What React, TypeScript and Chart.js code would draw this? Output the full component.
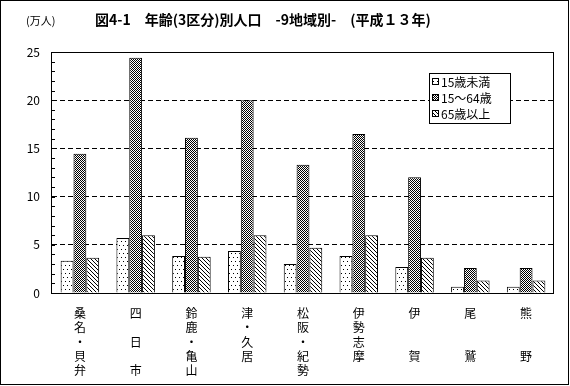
import React, { useEffect, useRef } from "react";
import { Chart, registerables } from "chart.js";

Chart.register(...registerables);

const categories: string[][] = [
  ["桑", "名", "・", "貝", "弁"],
  ["四", "", "日", "", "市"],
  ["鈴", "鹿", "・", "亀", "山"],
  ["津", "・", "久", "居"],
  ["松", "阪", "・", "紀", "勢"],
  ["伊", "勢", "志", "摩"],
  ["伊", "", "", "賀"],
  ["尾", "", "", "鷲"],
  ["熊", "", "", "野"],
];
const seriesNames = ["15歳未満", "15～64歳", "65歳以上"];
const under15 = [3.35, 5.7, 3.85, 4.35, 3.0, 3.85, 2.7, 0.65, 0.65];
const age15to64 = [14.45, 24.4, 16.1, 20.0, 13.3, 16.5, 12.0, 2.6, 2.6];
const over65 = [3.65, 6.0, 3.75, 6.0, 4.7, 6.0, 3.65, 1.3, 1.3];
const yTicks = [0, 5, 10, 15, 20, 25];

const TITLE = "図4-1　年齢(3区分)別人口　-9地域別-　(平成１３年)";
const UNIT = "(万人)";
const FONT = "'Noto Sans CJK JP', 'DejaVu Sans', sans-serif";

function makePattern(kind: number): CanvasPattern | string {
  const c = document.createElement("canvas");
  const ctx = c.getContext("2d")!;
  if (kind === 0) {
    c.width = 4; c.height = 8;
    ctx.fillStyle = "#fff"; ctx.fillRect(0, 0, 4, 8);
    ctx.fillStyle = "#000";
    ctx.fillRect(1, 1, 1, 1);
    ctx.fillRect(3, 5, 1, 1);
  } else if (kind === 1) {
    c.width = 2; c.height = 2;
    ctx.fillStyle = "#fff"; ctx.fillRect(0, 0, 2, 2);
    ctx.fillStyle = "#000";
    ctx.fillRect(0, 0, 1, 1);
    ctx.fillRect(1, 1, 1, 1);
  } else {
    c.width = 4; c.height = 4;
    ctx.fillStyle = "#fff"; ctx.fillRect(0, 0, 4, 4);
    ctx.fillStyle = "#000";
    for (let i = 0; i < 4; i++) ctx.fillRect(i, i, 1, 1);
  }
  const p = ctx.createPattern(c, "repeat");
  return p || "#888";
}

export default function App() {
  const ref = useRef<HTMLCanvasElement | null>(null);
  useEffect(() => {
    document.body.style.margin = "0";
    const canvas = ref.current!;
    const patterns = [makePattern(0), makePattern(1), makePattern(2)];

    const decor = {
      id: "decor",
      afterDraw(chart: any) {
        const ctx = chart.ctx as CanvasRenderingContext2D;
        const a = chart.chartArea;
        const ys = chart.scales.y;
        ctx.save();
        // plot frame
        ctx.strokeStyle = "#000";
        ctx.lineWidth = 1;
        ctx.setLineDash([]);
        ctx.strokeRect(Math.round(a.left) - 0.5, Math.round(a.top) + 0.5, Math.round(a.right - a.left), Math.round(a.bottom - a.top));
        // minor ticks
        for (let v = 1; v < 25; v++) {
          const y = Math.round(ys.getPixelForValue(v)) + 0.5;
          ctx.beginPath();
          ctx.moveTo(a.left, y);
          ctx.lineTo(a.left + 3, y);
          ctx.stroke();
        }
        // title
        ctx.fillStyle = "#000";
        ctx.textBaseline = "middle";
        ctx.textAlign = "left";
        ctx.font = `bold 14px ${FONT}`;
        ctx.fillText(TITLE, 95, 20);
        ctx.font = `11px ${FONT}`;
        ctx.fillText(UNIT, 26, 21);
        // legend
        const lx = 429, ly = 73, lw = 81, lh = 50;
        ctx.fillStyle = "#fff";
        ctx.fillRect(lx, ly, lw, lh);
        ctx.strokeRect(lx + 0.5, ly + 0.5, lw, lh);
        ctx.font = `12px ${FONT}`;
        for (let i = 0; i < 3; i++) {
          const cy = ly + 9 + i * 16;
          ctx.fillStyle = patterns[i] as any;
          ctx.fillRect(lx + 3, cy - 4, 7, 7);
          ctx.strokeStyle = "#000";
          ctx.strokeRect(lx + 3.5, cy - 3.5, 6, 6);
          ctx.fillStyle = "#000";
          ctx.fillText(seriesNames[i], lx + 12, cy);
        }
        // outer border
        ctx.strokeRect(0.5, 0.5, 568, 384);
        ctx.restore();
      },
    };

    const chart = new Chart(canvas, {
      type: "bar",
      data: {
        labels: categories as any,
        datasets: [under15, age15to64, over65].map((d, i) => ({
          label: seriesNames[i],
          data: d,
          backgroundColor: patterns[i] as any,
          borderColor: "#000",
          borderWidth: 1,
          categoryPercentage: 0.69,
          barPercentage: 1.0,
        })),
      },
      options: {
        animation: false,
        responsive: false,
        devicePixelRatio: 1,
        layout: { padding: { top: 52, right: 16, left: 0, bottom: 0 } },
        plugins: { legend: { display: false }, title: { display: false }, tooltip: { enabled: false } },
        scales: {
          x: {
            grid: { display: false },
            border: { display: false },
            ticks: {
              color: "#000",
              font: { family: FONT, size: 12, lineHeight: 1.2 },
              padding: 5,
              maxRotation: 0,
              autoSkip: false,
            },
            afterFit: (s: any) => { s.height = 93; },
          },
          y: {
            min: 0,
            max: 25,
            afterBuildTicks: (s: any) => { s.ticks = yTicks.map((v) => ({ value: v })); },
            grid: { color: "#000", lineWidth: 1, drawTicks: false },
            border: { display: false, dash: [5, 3] },
            ticks: {
              color: "#000",
              font: { family: FONT, size: 12 },
              padding: 12,
            },
            afterFit: (s: any) => { s.width = 52; },
          },
        },
      },
      plugins: [decor],
    });
    return () => chart.destroy();
  }, []);
  return (
    <div style={{ width: 570, height: 386, background: "#fff" }}>
      <canvas ref={ref} width={570} height={386} style={{ display: "block" }} />
    </div>
  );
}
